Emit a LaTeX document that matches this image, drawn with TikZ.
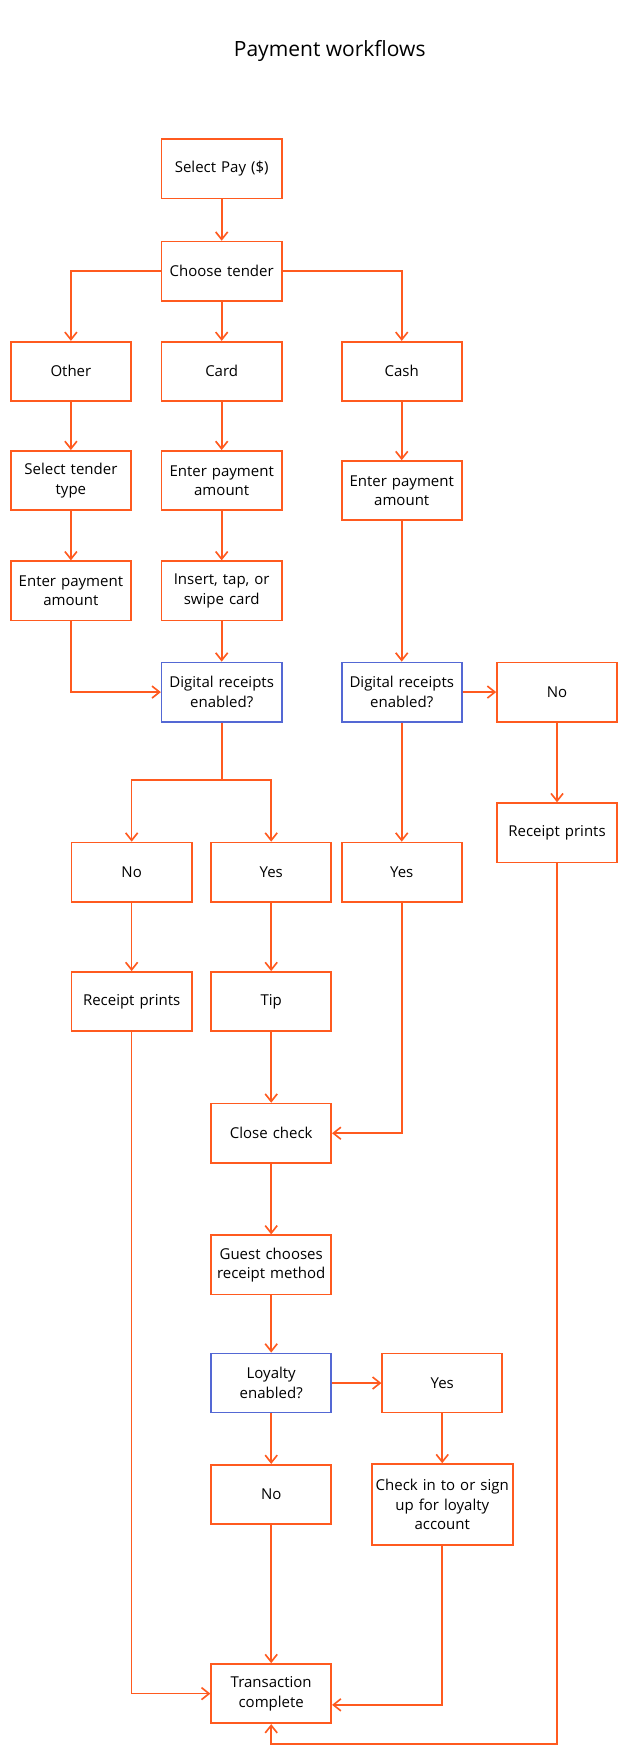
\documentclass[tikz,border=0pt]{standalone}
\usepackage{fontspec}
\setmainfont{Open Sans}
\usetikzlibrary{arrows.meta}
\definecolor{org}{HTML}{FF5A1F}
\definecolor{blu}{HTML}{5468D4}
\begin{document}
\begin{tikzpicture}[x=0.75pt,y=-0.75pt,
  b/.style={draw=org,line width=1.1pt,minimum width=80pt,minimum height=39.5pt,align=center,font=\fontsize{10}{13}\selectfont,inner sep=1pt,text width=78pt},
  q/.style={b,draw=blu},
  a/.style={draw=org,line width=1.1pt,-{Straight Barb[length=5pt,width=8pt]}},
  l/.style={draw=org,line width=1.1pt}]
\useasboundingbox (0,0) rectangle (557,1564);
\node[font=\fontsize{14}{16}\selectfont] (title) at (293,45) {Payment workflows};
\node[b] (pay) at (197,150) {Select Pay (\$)};
\node[b] (ct) at (197,241) {Choose tender};
\node[b] (oth) at (63,330) {Other};
\node[b] (card) at (197,330) {Card};
\node[b] (cash) at (357,330) {Cash};
\node[b] (stt) at (63,427) {Select tender\\type};
\node[b] (epc) at (197,427) {Enter payment\\amount};
\node[b] (epk) at (357,436) {Enter payment\\amount};
\node[b] (epo) at (63,525) {Enter payment\\amount};
\node[b] (ins) at (197,525) {Insert, tap, or\\swipe card};
\node[q] (drc) at (197,615) {Digital receipts\\enabled?};
\node[q] (drk) at (357,615) {Digital receipts\\enabled?};
\node[b] (nor) at (495,615) {No};
\node[b] (rpr) at (495,740) {Receipt prints};
\node[b] (nol) at (117,775) {No};
\node[b] (yesc) at (241,775) {Yes};
\node[b] (yesk) at (357,775) {Yes};
\node[b] (rpl) at (117,890) {Receipt prints};
\node[b] (tip) at (241,890) {Tip};
\node[b] (cc) at (241,1007) {Close check};
\node[b] (gc) at (241,1124) {Guest chooses\\receipt method};
\node[q] (loy) at (241,1229) {Loyalty\\enabled?};
\node[b] (yl) at (393,1229) {Yes};
\node[b] (nl) at (241,1328) {No};
\node[b,minimum width=94pt,text width=92pt,minimum height=54pt] (chk) at (393,1337) {Check in to or sign\\up for loyalty\\account};
\node[b] (tc) at (241,1505) {Transaction\\complete};
\coordinate (sp) at (197,693);
\draw[a] (pay) -- (ct);
\draw[a] (ct) -- (card);
\draw[a] (ct.west) -| (oth.north);
\draw[a] (ct.east) -| (cash.north);
\draw[a] (oth) -- (stt);
\draw[a] (stt) -- (epo);
\draw[a] (card) -- (epc);
\draw[a] (epc) -- (ins);
\draw[a] (ins) -- (drc);
\draw[a] (epo.south) |- (drc.west);
\draw[a] (cash) -- (epk);
\draw[a] (epk) -- (drk);
\draw[a] (drk) -- (nor);
\draw[a] (nor) -- (rpr);
\draw[l] (drc) -- (sp);
\draw[a] (sp) -| (nol.north);
\draw[a] (sp) -| (yesc.north);
\draw[a] (drk) -- (yesk);
\draw[a] (nol) -- (rpl);
\draw[a] (yesc) -- (tip);
\draw[a] (tip) -- (cc);
\draw[a] (yesk.south) |- (cc.east);
\draw[a] (cc) -- (gc);
\draw[a] (gc) -- (loy);
\draw[a] (loy) -- (yl);
\draw[a] (loy) -- (nl);
\draw[a] (yl) -- (chk);
\draw[a] (nl) -- (tc);
\draw[a] (rpl.south) |- (tc.west);
\draw[a] (chk.south) |- ([yshift=-0.75pt*10]tc.east);
\draw[a] (rpr.south) |- (241,1550) -- (tc.south);
\end{tikzpicture}
\end{document}
